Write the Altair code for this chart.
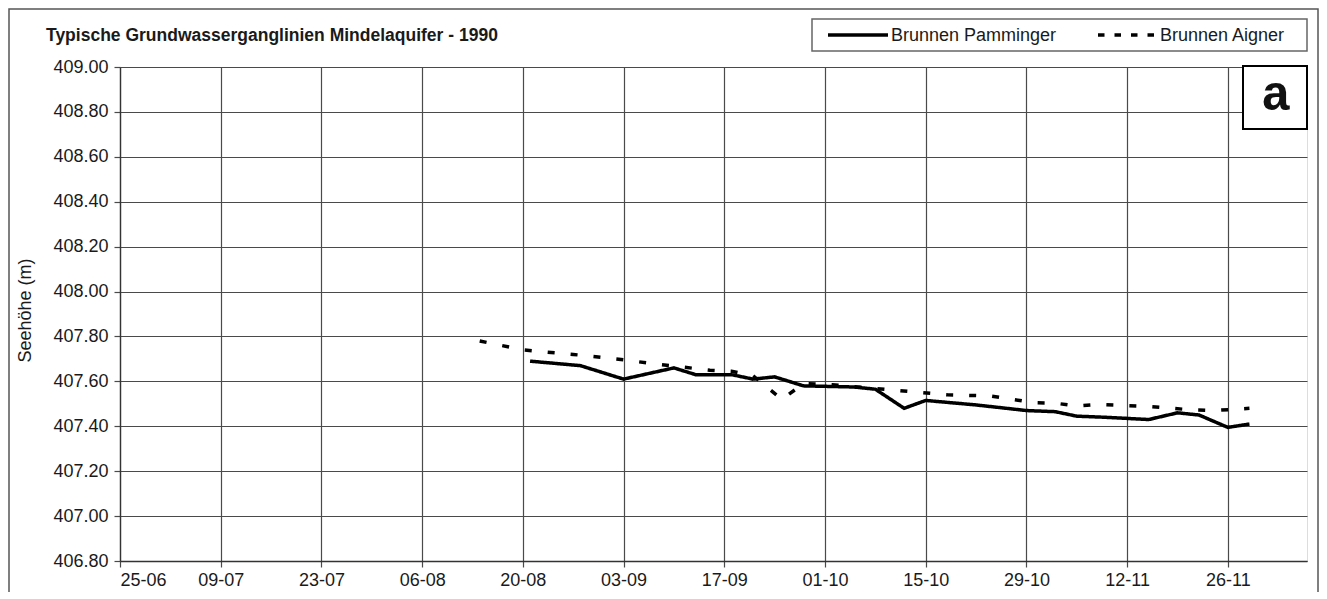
import altair as alt
import pandas as pd

FONT = "Liberation Sans"

title_text = "Typische Grundwasserganglinien Mindelaquifer - 1990"
y_title = "Seehöhe (m)"
series_names = ["Brunnen Pamminger", "Brunnen Aigner"]
panel_label = "a"

start_date = "1990-06-25"
end_date = "1990-12-07"
tick_dates = ["1990-06-25", "1990-07-09", "1990-07-23", "1990-08-06", "1990-08-20",
              "1990-09-03", "1990-09-17", "1990-10-01", "1990-10-15", "1990-10-29",
              "1990-11-12", "1990-11-26"]
y_ticks = [406.8, 407.0, 407.2, 407.4, 407.6, 407.8, 408.0, 408.2, 408.4, 408.6, 408.8, 409.0]

pam_dates = ["1990-08-21", "1990-08-28", "1990-09-03", "1990-09-10", "1990-09-13", "1990-09-18",
             "1990-09-21", "1990-09-24", "1990-09-28", "1990-10-05", "1990-10-08", "1990-10-12",
             "1990-10-15", "1990-10-22", "1990-10-29", "1990-11-02", "1990-11-05", "1990-11-09",
             "1990-11-15", "1990-11-19", "1990-11-22", "1990-11-26", "1990-11-29"]
pam_values = [407.69, 407.67, 407.61, 407.66, 407.63, 407.63, 407.61, 407.62, 407.58, 407.575,
              407.565, 407.48, 407.515, 407.495, 407.47, 407.465, 407.445, 407.44, 407.43,
              407.46, 407.45, 407.395, 407.41]

aig_dates = ["1990-08-14", "1990-08-20", "1990-08-27", "1990-09-02", "1990-09-08", "1990-09-15",
             "1990-09-18", "1990-09-21", "1990-09-25", "1990-09-28", "1990-10-02", "1990-10-11",
             "1990-10-18", "1990-10-24", "1990-10-27", "1990-10-30", "1990-11-02", "1990-11-05",
             "1990-11-08", "1990-11-15", "1990-11-21", "1990-11-24", "1990-11-29"]
aig_values = [407.78, 407.74, 407.72, 407.70, 407.675, 407.65, 407.645, 407.625, 407.52, 407.59,
              407.585, 407.56, 407.54, 407.535, 407.52, 407.505, 407.503, 407.49, 407.497,
              407.488, 407.473, 407.47, 407.48]

dash_solid = [1, 0]
dash_line = [7, 16]
dash_legend = [6.5, 10]

t0 = pd.Timestamp(start_date)


def day(d):
    return (pd.Timestamp(d) - t0).days


rows = []
for d, v in zip(pam_dates, pam_values):
    rows.append({"day": day(d), "value": v, "series": series_names[0]})
for d, v in zip(aig_dates, aig_values):
    rows.append({"day": day(d), "value": v, "series": series_names[1]})
df = pd.DataFrame(rows)

one = pd.DataFrame({"k": [0]})

tick_days = [day(d) for d in tick_dates]
tick_labels = [pd.Timestamp(d).strftime("%d-%m") for d in tick_dates]
label_map = "{" + ",".join(f"'{k}':'{l}'" for k, l in zip(tick_days, tick_labels)) + "}"

W, H = 1187, 494

x_enc = alt.X(
    "day:Q",
    scale=alt.Scale(domain=[0, day(end_date)], nice=False, zero=False),
    axis=alt.Axis(values=tick_days, labelExpr=f"{label_map}[datum.value]", title=None,
                  grid=True, gridColor="#4a4a4a", gridWidth=1.2, tickColor="#4a4a4a", tickSize=6,
                  tickWidth=1.2, domainColor="#333", domainWidth=1.3, labelPadding=4,
                  labelFontSize=18, labelColor="#1a1a1a", labelFont=FONT),
)
y_enc = alt.Y(
    "value:Q",
    scale=alt.Scale(domain=[406.8, 409.0], nice=False, zero=False),
    axis=alt.Axis(values=y_ticks, format=".2f", title=y_title, grid=True, gridColor="#4a4a4a",
                  gridWidth=1.2, tickColor="#4a4a4a", tickSize=6, tickWidth=1.2,
                  domainColor="#333", domainWidth=1.3, labelPadding=6, labelFontSize=18,
                  labelColor="#1a1a1a", labelFont=FONT, titleFont=FONT, titleFontSize=18,
                  titleFontWeight="normal", titleColor="#1a1a1a", titleAngle=270,
                  titleX=-95, titleY=243, titleAlign="center", titleBaseline="middle"),
)

lines = alt.Chart(df).mark_line(color="black", strokeWidth=3.5).encode(
    x=x_enc,
    y=y_enc,
    strokeDash=alt.StrokeDash(
        "series:N",
        scale=alt.Scale(domain=series_names, range=[dash_solid, dash_line]),
        legend=None,
    ),
    order="day:Q",
)

# legend box (drawn as annotation)
leg_box = alt.Chart(one).mark_rect(fill="white", stroke="#666", strokeWidth=1.5).encode(
    x=alt.value(692), x2=alt.value(1187), y=alt.value(-48), y2=alt.value(-16)
)
leg_sym1 = alt.Chart(one).mark_rule(color="black", strokeWidth=3.5).encode(
    x=alt.value(708), x2=alt.value(768), y=alt.value(-32)
)
leg_sym2 = alt.Chart(one).mark_rule(color="black", strokeWidth=3.5,
                                    strokeDash=dash_legend).encode(
    x=alt.value(978), x2=alt.value(1036), y=alt.value(-32)
)
leg_txt1 = alt.Chart(one).mark_text(text=series_names[0], font=FONT, fontSize=18,
                                    color="#1a1a1a", align="left", baseline="middle").encode(
    x=alt.value(771), y=alt.value(-31)
)
leg_txt2 = alt.Chart(one).mark_text(text=series_names[1], font=FONT, fontSize=18,
                                    color="#1a1a1a", align="left", baseline="middle").encode(
    x=alt.value(1040), y=alt.value(-31)
)

box_a = alt.Chart(one).mark_rect(fill="white", stroke="black", strokeWidth=2).encode(
    x=alt.value(1123), x2=alt.value(1187), y=alt.value(-1), y2=alt.value(62)
)
text_a = alt.Chart(one).mark_text(text=panel_label, font="Liberation Mono", fontSize=50,
                                  fontWeight="bold", color="#111", align="center",
                                  baseline="middle").encode(
    x=alt.value(1156), y=alt.value(28)
)
title_mark = alt.Chart(one).mark_text(text=title_text, font=FONT, fontSize=17.5,
                                      fontWeight="bold", color="#1a1a1a", align="left",
                                      baseline="alphabetic").encode(
    x=alt.value(-74), y=alt.value(-26)
)
border = alt.Chart(one).mark_rect(fillOpacity=0, stroke="#555", strokeWidth=1.5).encode(
    x=alt.value(-111), x2=alt.value(1198), y=alt.value(-58), y2=alt.value(545)
)

chart = alt.layer(lines, box_a, text_a, leg_box, leg_sym1, leg_sym2, leg_txt1, leg_txt2,
                  title_mark, border).properties(
    width=W, height=H,
    autosize=alt.AutoSizeParams(type="none"),
    padding={"left": 112, "top": 59, "right": 12, "bottom": 31},
).configure_view(stroke="#333", strokeWidth=1.3).configure(background="white")

chart.save("out.html", embed_options={"renderer": "svg", "actions": False})
